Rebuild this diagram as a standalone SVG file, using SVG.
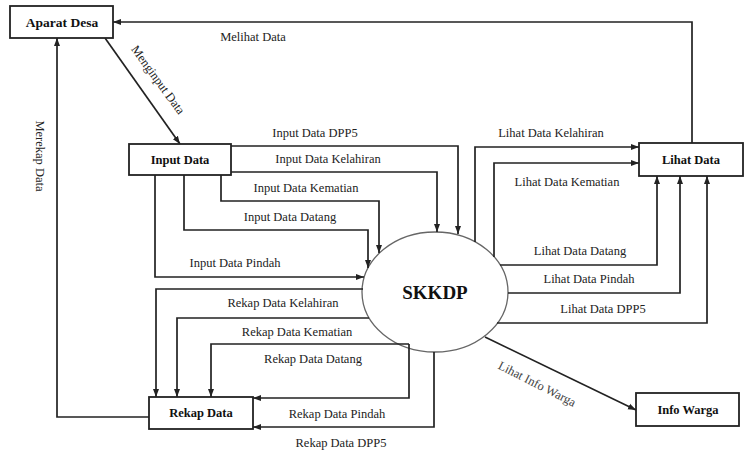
<svg xmlns="http://www.w3.org/2000/svg" width="751" height="450" viewBox="0 0 751 450">
<style>
.box{fill:#fff;stroke:#222;stroke-width:1.8}
.n{font-family:"Liberation Serif","Times New Roman",serif;font-weight:bold;font-size:12.5px;fill:#111;text-anchor:middle}
.l{font-family:"Liberation Serif","Times New Roman",serif;font-size:12.5px;fill:#222;text-anchor:middle}
.c{fill:none;stroke:#222;stroke-width:1.7;marker-end:url(#a)}
.p{fill:none;stroke:#222;stroke-width:1.7}
</style>
<defs>
<marker id="a" markerWidth="8" markerHeight="8" refX="8" refY="4" orient="auto" markerUnits="userSpaceOnUse">
<path d="M0,1 L8,4 L0,7 z" fill="#222"/>
</marker>
</defs>
<rect width="751" height="450" fill="#fff"/>
<g id="skkdp">
<ellipse cx="435" cy="292" rx="73" ry="60" fill="#fff" stroke="#666" stroke-width="1.3"/>
<text class="n" x="435" y="299" style="font-size:19px">SKKDP</text>
</g>
<g id="connectors">
<polyline class="c" points="692,143 692,22 113,22"/>
<line class="c" x1="105" y1="38" x2="180" y2="144"/>
<polyline class="c" points="149,417 57,417 57,38"/>
<polyline class="c" points="231,146 458,146 458,234"/>
<polyline class="c" points="231,172 437,172 437,232"/>
<polyline class="c" points="221,175 221,201 379,201 379,253"/>
<polyline class="c" points="184,175 184,230 368,230 368,268"/>
<polyline class="c" points="155,175 155,277 364,277"/>
<polyline class="c" points="363,289 156,289 156,397"/>
<polyline class="c" points="369,318 177,318 177,397"/>
<polyline class="c" points="409,344 211,344 211,397"/>
<polyline class="c" points="409,344 409,398 253,398"/>
<polyline class="c" points="434,352 434,427 253,427"/>
<polyline class="c" points="475,242 475,147 639,147"/>
<polyline class="c" points="494,257 494,163 639,163"/>
<polyline class="c" points="500,265 657,265 657,176"/>
<polyline class="c" points="508,293 680,293 680,176"/>
<polyline class="c" points="497,323 707,323 707,176"/>
<line class="c" x1="485" y1="337" x2="636" y2="410"/>
<text class="l" x="253" y="41">Melihat Data</text>
<text class="l" transform="translate(158,80) rotate(54)" y="4">Menginput Data</text>
<text class="l" transform="translate(40,156) rotate(90)" y="4">Merekap Data</text>
<text class="l" x="315" y="137">Input Data DPP5</text>
<text class="l" x="328" y="163">Input Data Kelahiran</text>
<text class="l" x="306" y="192">Input Data Kematian</text>
<text class="l" x="290" y="221">Input Data Datang</text>
<text class="l" x="235" y="267">Input Data Pindah</text>
<text class="l" x="283" y="307">Rekap Data Kelahiran</text>
<text class="l" x="297" y="336">Rekap Data Kematian</text>
<text class="l" x="313" y="363">Rekap Data Datang</text>
<text class="l" x="337" y="418">Rekap Data Pindah</text>
<text class="l" x="341" y="447">Rekap Data DPP5</text>
<text class="l" x="551" y="137">Lihat Data Kelahiran</text>
<text class="l" x="567" y="186">Lihat Data Kematian</text>
<text class="l" x="580" y="255">Lihat Data Datang</text>
<text class="l" x="589" y="283">Lihat Data Pindah</text>
<text class="l" x="603" y="313">Lihat Data DPP5</text>
<text class="l" transform="translate(537,384) rotate(27)" y="4" style="fill:#444">Lihat Info Warga</text>
</g>
<g id="aparat-desa">
<rect class="box" x="10" y="6" width="103" height="32"/>
<text class="n" x="62" y="26.5" style="font-size:13.5px">Aparat Desa</text>
</g>
<g id="input-data">
<rect class="box" x="129" y="144" width="102" height="31"/>
<text class="n" x="180" y="164">Input Data</text>
</g>
<g id="lihat-data">
<rect class="box" x="639" y="143" width="104" height="33"/>
<text class="n" x="691" y="164">Lihat Data</text>
</g>
<g id="rekap-data">
<rect class="box" x="149" y="397" width="104" height="32"/>
<text class="n" x="201" y="417">Rekap Data</text>
</g>
<g id="info-warga">
<rect class="box" x="636" y="393" width="103" height="33"/>
<text class="n" x="688" y="414">Info Warga</text>
</g>
</svg>
